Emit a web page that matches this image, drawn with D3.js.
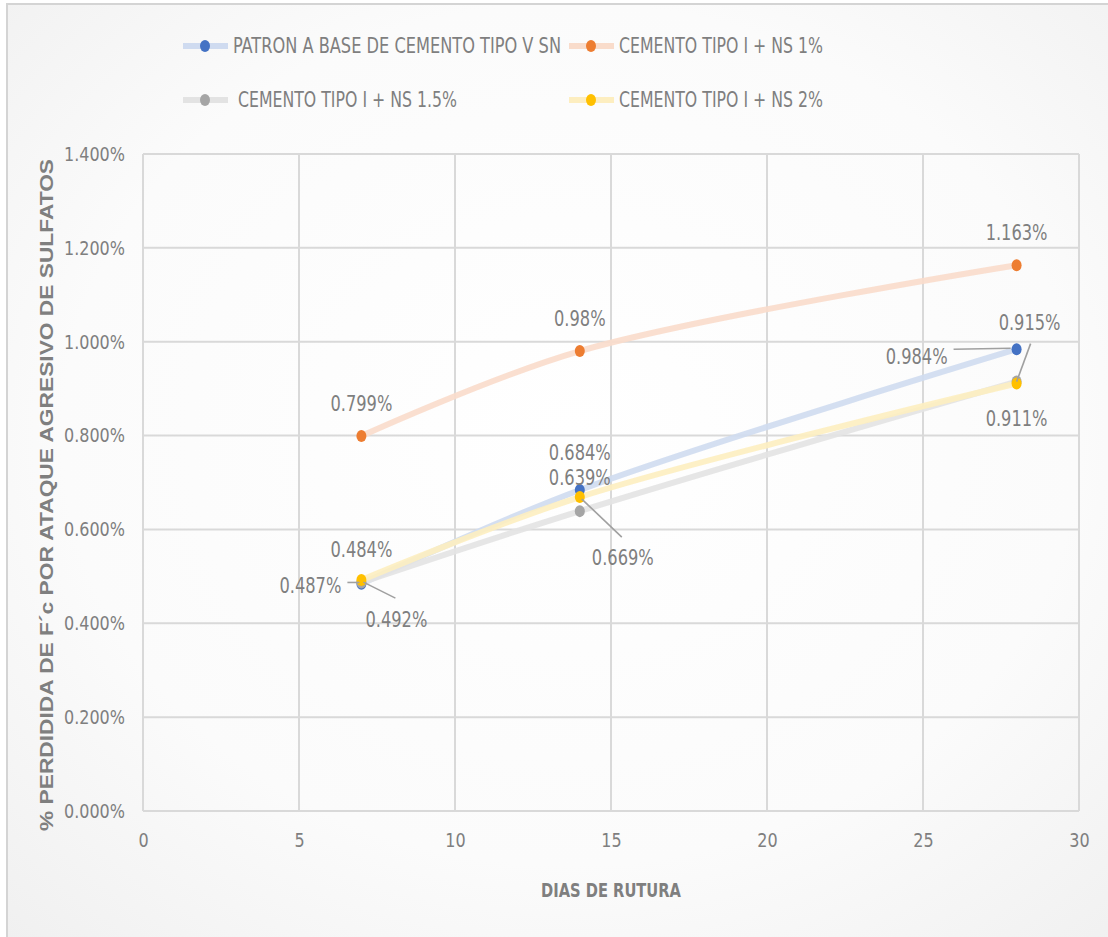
<!DOCTYPE html>
<html>
<head>
<meta charset="utf-8">
<script src="https://cdn.jsdelivr.net/npm/d3@7"></script>
<style>
  html, body { margin: 0; padding: 0; background: #ffffff; }
  svg { display: block; }
  text { font-family: "Liberation Sans Narrow", "DejaVu Sans Condensed", "Liberation Sans", sans-serif; }
</style>
</head>
<body>
<svg id="chart" width="1108" height="937"></svg>
<script>
// Curing age (days) at which specimens were broken
const dias = [7, 14, 28];

// Series names
const seriesNames = [
  "PATRON A BASE DE CEMENTO TIPO V SN",
  "CEMENTO TIPO I + NS 1%",
  "CEMENTO TIPO I + NS 1.5%",
  "CEMENTO TIPO I + NS 2%"
];

// % loss of f'c for each series
const patron   = [0.484, 0.684, 0.984];
const ns1      = [0.799, 0.980, 1.163];
const ns15     = [0.487, 0.639, 0.915];
const ns2      = [0.492, 0.669, 0.911];

// Label texts as printed next to each point
const labelsPatron = ["0.484%", "0.684%", "0.984%"];
const labelsNs1    = ["0.799%", "0.98%",  "1.163%"];
const labelsNs15   = ["0.487%", "0.639%", "0.915%"];
const labelsNs2    = ["0.492%", "0.669%", "0.911%"];

// Axis ticks
const xTicks = [0, 5, 10, 15, 20, 25, 30];
const yTicks = [0, 0.2, 0.4, 0.6, 0.8, 1.0, 1.2, 1.4];

const xTitle = "DIAS DE RUTURA";
const yTitle = "% PERDIDIDA DE F´c POR ATAQUE AGRESIVO DE SULFATOS";

// ---- styling ----
const markerColors = ["#4472C4", "#ED7D31", "#A5A5A5", "#FFC000"];
const lineColors   = ["#cfdbf0", "#f9dccb", "#e3e3e3", "#fdeec0"];
const textColor = "#7f7f7f";
const gridColor = "#d9d9d9";

// label placement relative to the point: [dx, dy, anchor, leader]
// leader: null or [x1,y1,x2,y2] relative to point
const labelLayout = [
  [ [0, -34, "middle", null], [0, -37, "middle", null], [-69, 7, "end", [-63, 0, -6, -1]] ],
  [ [0, -32, "middle", null], [0, -32, "middle", null], [0, -33, "middle", null] ],
  [ [-20, 3, "end", [-14, 0, -2, 0]], [0, -33, "middle", null], [13, -59, "middle", [14, -38, 0, 0]] ],
  [ [35, 40, "middle", [2, 2, 34, 18]], [43, 61, "middle", [2, 2, 42, 40]], [0, 35, "middle", null] ]
];

const values = [patron, ns1, ns15, ns2];
const labelTexts = [labelsPatron, labelsNs1, labelsNs15, labelsNs2];

// squeeze glyphs horizontally while keeping their height
function condense(sel, factor) {
  sel.each(function () {
    const w = this.getComputedTextLength();
    d3.select(this).attr("textLength", w * factor).attr("lengthAdjust", "spacingAndGlyphs");
  });
}

const svg = d3.select("#chart");
const W = 1108, H = 937;

// background with soft radial shading
const defs = svg.append("defs");
const grad = defs.append("radialGradient").attr("id", "bg")
  .attr("cx", "50%").attr("cy", "45%").attr("r", "75%");
grad.append("stop").attr("offset", "0%").attr("stop-color", "#ffffff");
grad.append("stop").attr("offset", "60%").attr("stop-color", "#fbfbfb");
grad.append("stop").attr("offset", "100%").attr("stop-color", "#efefef");

svg.append("rect").attr("x", 0).attr("y", 0).attr("width", W).attr("height", H).attr("fill", "#ffffff");
svg.append("rect").attr("x", 7).attr("y", 4).attr("width", W + 20).attr("height", H + 20)
  .attr("fill", "url(#bg)").attr("stroke", "#d4d4d4").attr("stroke-width", 2);

const margin = { left: 143, right: 1079, top: 154, bottom: 811 };
const x = d3.scaleLinear().domain([0, 30]).range([margin.left, margin.right]);
const y = d3.scaleLinear().domain([0, 1.4]).range([margin.bottom, margin.top]);

// grid
const g = svg.append("g");
g.selectAll(".vgrid").data(xTicks).join("line")
  .attr("x1", d => x(d)).attr("x2", d => x(d))
  .attr("y1", y(1.4)).attr("y2", y(0))
  .attr("stroke", gridColor).attr("stroke-width", 2);
g.selectAll(".hgrid").data(yTicks).join("line")
  .attr("x1", x(0)).attr("x2", x(30))
  .attr("y1", d => y(d)).attr("y2", d => y(d))
  .attr("stroke", gridColor).attr("stroke-width", 2);

// axes via d3 axis generators, restyled
const xAxis = svg.append("g").attr("transform", `translate(0,${margin.bottom})`)
  .call(d3.axisBottom(x).tickValues(xTicks).tickSize(0).tickPadding(30).tickFormat(d3.format("d")));
const yAxis = svg.append("g").attr("transform", `translate(${margin.left},0)`)
  .call(d3.axisLeft(y).tickValues(yTicks).tickSize(0).tickPadding(18).tickFormat(d => d.toFixed(3) + "%"));
[xAxis, yAxis].forEach(a => {
  a.select(".domain").remove();
  a.selectAll("text").attr("fill", textColor).style("font-size", "20px");
  condense(a.selectAll("text"), 0.89);
});
xAxis.selectAll("text").attr("dy", "0.32em");

// axis titles
svg.append("text").attr("x", 611).attr("y", 897).attr("text-anchor", "middle")
  .attr("fill", textColor).style("font-size", "19px").style("font-weight", "bold")
  .attr("textLength", 140).attr("lengthAdjust", "spacingAndGlyphs")
  .text(xTitle);
svg.append("text").attr("transform", "translate(53,495) rotate(-90)").attr("text-anchor", "middle")
  .attr("fill", textColor).style("font-size", "19px").style("font-weight", "bold")
  .style("font-family", "'Liberation Sans', 'DejaVu Sans', sans-serif")
  .attr("textLength", 672).attr("lengthAdjust", "spacingAndGlyphs")
  .text(yTitle);

// lines (smoothed)
const line = d3.line().x((d, i) => x(dias[i])).y(d => y(d)).curve(d3.curveCatmullRom.alpha(0.5));
const seriesG = svg.append("g");
values.forEach((vals, s) => {
  seriesG.append("path").attr("d", line(vals)).attr("fill", "none")
    .attr("stroke", lineColors[s]).attr("stroke-width", 6).attr("stroke-linecap", "round")
    .attr("opacity", 0.9);
});
values.forEach((vals, s) => {
  seriesG.selectAll(null).data(vals).join("ellipse")
    .attr("cx", (d, i) => x(dias[i])).attr("cy", d => y(d))
    .attr("rx", 5).attr("ry", 6).attr("fill", markerColors[s]);
});

// data labels with leader lines
const lblG = svg.append("g");
values.forEach((vals, s) => {
  vals.forEach((v, i) => {
    const px = x(dias[i]), py = y(v);
    const [dx, dy, anchor, leader] = labelLayout[s][i];
    if (leader) {
      lblG.append("line")
        .attr("x1", px + leader[0]).attr("y1", py + leader[1])
        .attr("x2", px + leader[2]).attr("y2", py + leader[3])
        .attr("stroke", "#a0a0a0").attr("stroke-width", 1.6);
    }
    lblG.append("text").attr("x", px + dx).attr("y", py + dy).attr("dy", "0.35em")
      .attr("text-anchor", anchor).attr("fill", textColor).style("font-size", "21px")
      .text(labelTexts[s][i]);
  });
});
condense(lblG.selectAll("text"), 0.86);

// legend
const legendPos = [[183, 46], [569, 46], [183, 100], [569, 100]];
const legendText = [[233, 328], [619, 204], [238, 219], [619, 204]];
const leg = svg.append("g");
seriesNames.forEach((name, s) => {
  const [lx, ly] = legendPos[s];
  leg.append("line").attr("x1", lx).attr("x2", lx + 45).attr("y1", ly).attr("y2", ly)
    .attr("stroke", lineColors[s]).attr("stroke-width", 6);
  leg.append("ellipse").attr("cx", lx + 22).attr("cy", ly).attr("rx", 5).attr("ry", 6)
    .attr("fill", markerColors[s]);
  leg.append("text").attr("x", legendText[s][0]).attr("y", ly).attr("dy", "0.35em")
    .attr("fill", textColor).style("font-size", "21px")
    .attr("textLength", legendText[s][1]).attr("lengthAdjust", "spacingAndGlyphs")
    .text(name);
});
</script>
</body>
</html>
